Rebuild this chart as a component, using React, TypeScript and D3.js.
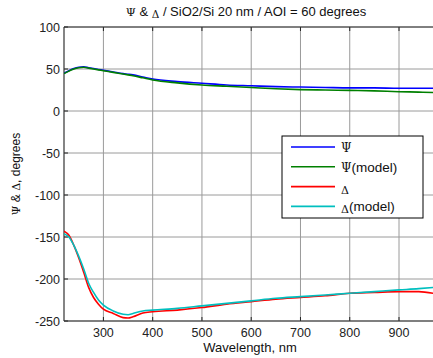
import React from 'react';
import * as d3 from 'd3';

const wavelengths = [220, 230, 240, 250, 260, 270, 280, 290, 300, 320, 340, 350, 360, 380, 400, 450, 500, 550, 600, 650, 700, 750, 800, 850, 900, 940, 970];
const psi = [45, 48, 50.5, 52, 52.5, 51.5, 50.5, 49.5, 48.5, 46.5, 44.5, 43.8, 43, 40.5, 38, 35, 33, 31, 30, 29, 28.5, 28, 27.5, 27.5, 27, 27, 27];
const psiModel = [44.5, 47.5, 50, 51.5, 52, 51, 50, 49, 48, 46, 44, 43, 42, 39.5, 37, 33.5, 31, 29.5, 28, 26.5, 25.5, 25, 24.5, 24, 23, 22.5, 22];
const delta = [-143, -148, -160, -175, -192, -210, -222, -230, -236, -241, -246, -246.5, -245, -240.5, -239, -237, -234, -230, -227, -224, -222, -220, -217, -216, -215, -215, -217];
const deltaModel = [-146, -150, -160, -173, -188, -205, -216, -225, -231, -238, -242, -242.5, -241, -238, -237, -235, -232, -229, -226, -223, -221, -219, -217, -215, -213, -211.5, -210];

const xTicks = [300, 400, 500, 600, 700, 800, 900];
const yTicks = [100, 50, 0, -50, -100, -150, -200, -250];

const series = [
  { name: 'Ψ', suffix: '', values: psi, color: '#0000ff' },
  { name: 'Ψ', suffix: '(model)', values: psiModel, color: '#008000' },
  { name: 'Δ', suffix: '', values: delta, color: '#ff0000' },
  { name: 'Δ', suffix: '(model)', values: deltaModel, color: '#00bfbf' },
];

const font = 'Liberation Sans, Arial, sans-serif';
const symFont = 'DejaVu Serif, serif';

export default function App() {
  const width = 433;
  const height = 358;
  const left = 64;
  const top = 27;
  const bottom = 321;

  const x = d3.scaleLinear().domain([220, 970]).range([left, 433.5]);
  const y = d3.scaleLinear().domain([-250, 100]).range([bottom, top]);

  const line = d3.line<number>()
    .x((_, i) => x(wavelengths[i]))
    .y(d => y(d))
    .curve(d3.curveMonotoneX);

  return (
    <svg width={width} height={height} style={{ position: 'absolute', left: 0, top: 0, background: '#fff' }}>
      <defs>
        <clipPath id="plot">
          <rect x={left} y={top} width={width - left} height={bottom - top} />
        </clipPath>
      </defs>
      {/* grid */}
      {xTicks.map(t => (
        <line key={'gx' + t} x1={x(t)} x2={x(t)} y1={top} y2={bottom} stroke="#9a9a9a" strokeWidth={1} />
      ))}
      {yTicks.map(t => (
        <line key={'gy' + t} x1={left} x2={width} y1={y(t)} y2={y(t)} stroke="#9a9a9a" strokeWidth={1} />
      ))}
      {/* ticks */}
      {xTicks.map(t => (
        <g key={'tx' + t}>
          <line x1={x(t)} x2={x(t)} y1={bottom} y2={bottom - 4} stroke="#222" />
          <line x1={x(t)} x2={x(t)} y1={top} y2={top + 4} stroke="#222" />
          <text x={x(t)} y={337} textAnchor="middle" fontFamily={font} fontSize={12.5} fill="#222">{t}</text>
        </g>
      ))}
      {yTicks.map(t => (
        <g key={'ty' + t}>
          <line x1={left} x2={left + 4} y1={y(t)} y2={y(t)} stroke="#222" />
          <text x={60} y={y(t) + 4.5} textAnchor="end" fontFamily={font} fontSize={12.5} fill="#222">{t}</text>
        </g>
      ))}
      {/* axes */}
      <line x1={left} x2={width} y1={bottom} y2={bottom} stroke="#333" strokeWidth={1.2} />
      <line x1={left} x2={left} y1={top} y2={bottom} stroke="#333" strokeWidth={1.2} />
      <line x1={left} x2={width} y1={top} y2={top} stroke="#333" strokeWidth={1} />
      {/* series */}
      <g clipPath="url(#plot)">
        {series.map((s, i) => (
          <path key={i} d={line(s.values) || ''} fill="none" stroke={s.color} strokeWidth={1.6} />
        ))}
      </g>
      {/* legend */}
      <rect x={282} y={136} width={141} height={82} fill="#fff" stroke="#000" strokeWidth={1} />
      {series.map((s, i) => {
        const ly = 147 + i * 19.8;
        const isDelta = s.name === 'Δ';
        return (
          <g key={'lg' + i}>
            <line x1={291} x2={335} y1={ly} y2={ly} stroke={s.color} strokeWidth={1.6} />
            <text x={341} y={ly + 5} fontFamily={font} fontSize={13.5} fill="#111">
              <tspan fontFamily={symFont} fontSize={isDelta ? 11 : 12} dy={isDelta ? 2 : 0}>{s.name}</tspan>
              <tspan dy={isDelta ? -2 : 0}>{s.suffix}</tspan>
            </text>
          </g>
        );
      })}
      {/* title */}
      <text x={246} y={16} textAnchor="middle" fontFamily={font} fontSize={13} fill="#111">
        <tspan fontFamily={symFont} fontSize={11.5}>Ψ</tspan>
        <tspan> &amp; </tspan>
        <tspan fontFamily={symFont} fontSize={10.5} dy={2}>Δ</tspan>
        <tspan dy={-2}> / SiO2/Si 20 nm / AOI = 60 degrees</tspan>
      </text>
      {/* axis labels */}
      <text x={250} y={352} textAnchor="middle" fontFamily={font} fontSize={13} fill="#111">Wavelength, nm</text>
      <text transform={`translate(20,${(top + bottom) / 2}) rotate(-90)`} textAnchor="middle" fontFamily={font} fontSize={12} fill="#111">
        <tspan fontFamily={symFont} fontSize={11}>Ψ</tspan>
        <tspan> &amp; </tspan>
        <tspan fontFamily={symFont} fontSize={11}>Δ</tspan>
        <tspan>, degrees</tspan>
      </text>
    </svg>
  );
}
